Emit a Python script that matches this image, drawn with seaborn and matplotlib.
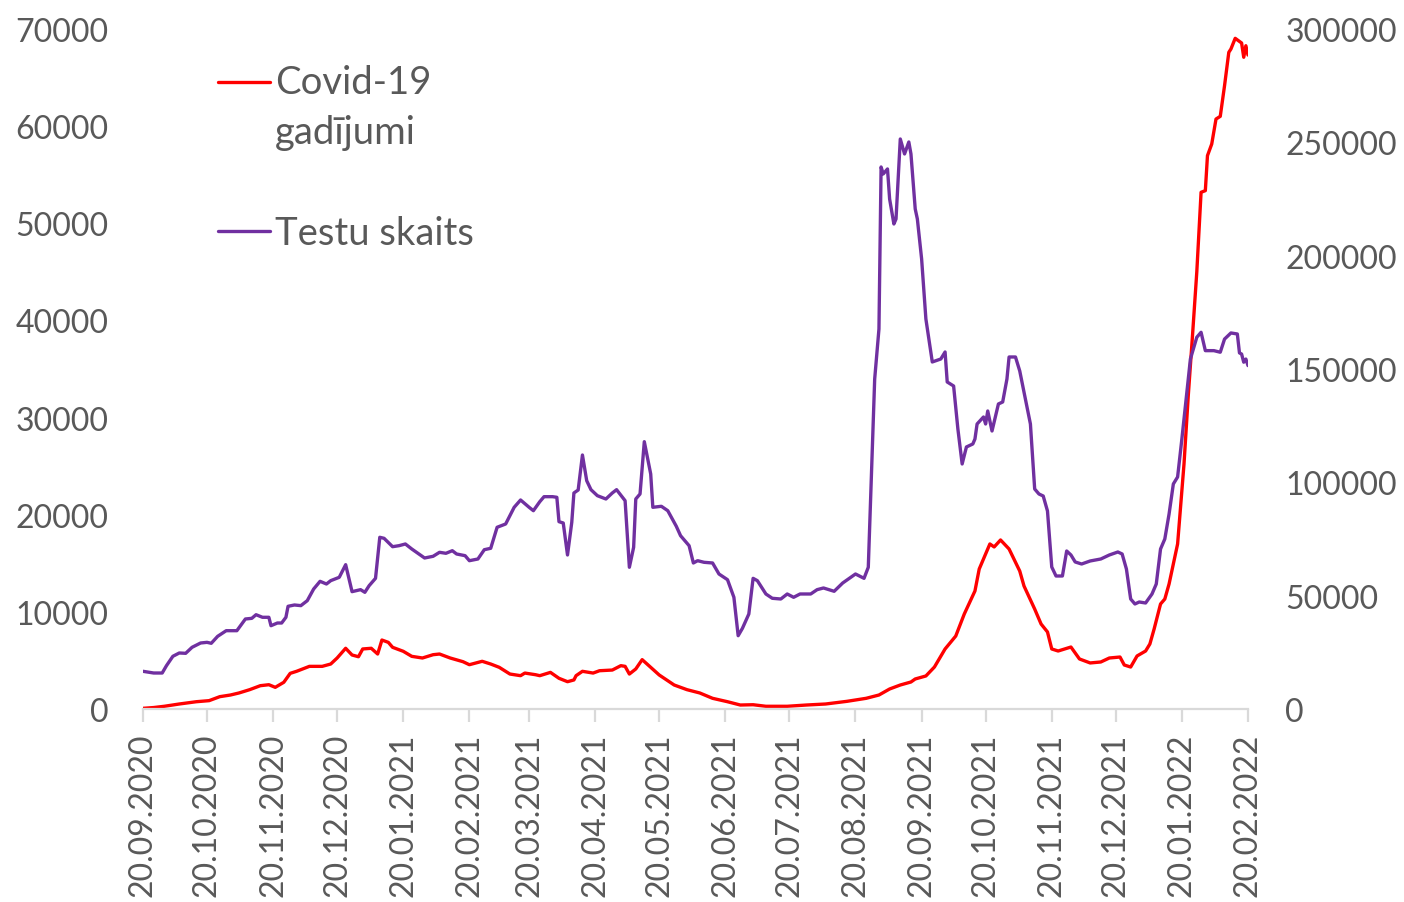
import matplotlib
matplotlib.use("Agg")
import matplotlib.pyplot as plt
import seaborn as sns
import pandas as pd
import numpy as np

# ---- data (days since 20.09.2020) ----
start_date = "2020-09-20"
end_date = "2022-02-20"

cases_days = [0, 5, 10, 17, 25, 31, 36, 41, 45, 50, 55, 59, 62, 66, 69, 72, 78, 84, 88, 91,
              95, 98, 101, 103, 107, 110, 112, 115, 117, 122, 126, 131, 136, 139, 144, 150,
              153, 159, 163, 167, 172, 177, 179, 184, 186, 191, 195, 199, 202, 203, 206, 211,
              214, 220, 224, 226, 228, 231, 234, 238, 242, 249, 255, 261, 267, 274, 280, 286,
              292, 302, 311, 320, 330, 339, 345, 350, 355, 360, 362, 367, 371, 376, 381, 385,
              390, 392, 397, 399, 402, 406, 411, 413, 418, 421, 424, 426, 429, 432, 435, 439,
              444, 449, 453, 458, 460, 463, 466, 470, 472, 474, 477, 479, 481, 485, 488, 490,
              492, 494, 496, 498, 499, 501, 503, 505, 507, 509, 510, 512, 515, 516, 517, 518]
cases = [70, 150, 280, 515, 750, 860, 1270, 1440, 1650, 1990, 2400, 2500, 2230, 2750, 3670,
         3880, 4390, 4390, 4630, 5250, 6250, 5560, 5380, 6180, 6250, 5660, 7100, 6860, 6350,
         5940, 5420, 5250, 5590, 5660, 5250, 4870, 4560, 4910, 4630, 4290, 3600, 3430, 3700,
         3530, 3430, 3770, 3160, 2810, 2990, 3430, 3880, 3700, 3940, 4010, 4460, 4390, 3600,
         4120, 5080, 4290, 3500, 2470, 1990, 1650, 1100, 750, 410, 440, 280, 280, 410, 515,
         790, 1100, 1440, 2060, 2470, 2780, 3090, 3400, 4320, 6180, 7510, 9780, 12150, 14410,
         16990, 16680, 17400, 16470, 14200, 12660, 10290, 8750, 7930, 6180, 5970, 6180, 6380,
         5150, 4740, 4840, 5250, 5350, 4530, 4320, 5460, 5970, 6690, 8240, 10810, 11320, 12870,
         16990, 25220, 32250, 38500, 45000, 53190, 53360, 56960, 58160, 60730, 61010, 64160,
         67600, 67940, 69040, 68560, 67090, 68280, 67320]

tests_days = [0, 5, 9, 11, 14, 17, 20, 23, 27, 30, 32, 35, 39, 44, 48, 51, 53, 56, 59, 60, 63,
              65, 67, 68, 71, 74, 77, 80, 83, 86, 88, 92, 95, 98, 102, 104, 106, 109, 111, 113,
              117, 120, 123, 126, 132, 136, 139, 142, 145, 147, 151, 153, 157, 160, 163, 166,
              170, 174, 177, 181, 183, 186, 188, 192, 194, 195, 197, 199, 201, 202, 204, 206,
              208, 210, 213, 217, 220, 222, 226, 228, 230, 231, 233, 235, 238, 239, 243, 246,
              250, 252, 256, 258, 260, 263, 267, 270, 274, 277, 279, 281, 284, 286, 288, 292,
              295, 299, 302, 305, 308, 313, 316, 319, 324, 328, 334, 338, 340, 343, 345, 346,
              347, 349, 350, 352, 353, 355, 357, 359, 360, 362, 363, 365, 367, 370, 374, 376,
              377, 380, 382, 384, 386, 389, 390, 391, 394, 395, 396, 398, 401, 403, 405, 406,
              409, 411, 413, 416, 418, 420, 422, 424, 426, 428, 431, 433, 435, 437, 440, 444,
              449, 453, 457, 459, 461, 463, 465, 467, 470, 473, 475, 477, 479, 481, 483, 485,
              487, 489, 491, 494, 496, 498, 502, 505, 507, 510, 513, 514, 515, 516, 517, 518]
tests = [16630, 15880, 15880, 19110, 23250, 24710, 24570, 27220, 29120, 29410, 28990, 32070,
         34550, 34550, 39710, 40000, 41600, 40460, 40460, 36750, 37940, 37940, 40460, 45310,
         45890, 45600, 47790, 52940, 56330, 55150, 56620, 58100, 63670, 51770, 52650, 51480,
         54400, 57650, 75750, 75310, 71610, 72050, 72800, 70590, 66620, 67370, 69130, 68690,
         69840, 68390, 67640, 65430, 66180, 70280, 70900, 80170, 81620, 88990, 92210, 88990,
         87490, 91460, 93670, 93670, 93400, 82640, 82060, 67950, 82370, 95300, 96620, 112060,
         100730, 96760, 94110, 92650, 95300, 96760, 91900, 62520, 71340, 92650, 94860, 117940,
         103680, 88990, 89430, 87490, 80610, 76460, 72050, 64420, 65430, 64720, 64420, 59560,
         57050, 49280, 32340, 35600, 41910, 57650, 56620, 50740, 48840, 48530, 50740, 49280,
         50740, 50740, 52650, 53390, 51930, 55590, 59560, 57650, 62520, 145600, 167660, 239130,
         236040, 238250, 225000, 213980, 216190, 251480, 244870, 250160, 244870, 220600, 216190,
         198540, 172070, 153100, 154420, 157510, 144270, 142500, 123540, 108100, 115600, 116920,
         119120, 125740, 128830, 125740, 131480, 122650, 134570, 135450, 145600, 155300, 155300,
         149130, 139860, 125740, 97060, 94860, 93970, 87360, 62650, 58680, 58680, 69710, 67950,
         64860, 63970, 65300, 66180, 67950, 69270, 68390, 61770, 48530, 46330, 47210, 46770,
         50740, 55150, 70590, 75000, 86030, 99270, 102360, 119120, 136770, 154400, 164000,
         166200, 158100, 158100, 157400, 163200, 165900, 165450, 157100, 156600, 153000, 154400,
         151500]

cases_label = "Covid-19\ngadījumi"
tests_label = "Testu skaits"
left_ticks = [0, 10000, 20000, 30000, 40000, 50000, 60000, 70000]
right_ticks = [0, 50000, 100000, 150000, 200000, 250000, 300000]

RED = "#FF0000"
PURPLE = "#7030A0"
GRAY_TXT = "#595959"
GRAY_AX = "#D9D9D9"

t0 = pd.Timestamp(start_date)
df_cases = pd.DataFrame({"date": t0 + pd.to_timedelta(cases_days, unit="D"), "value": cases})
df_tests = pd.DataFrame({"date": t0 + pd.to_timedelta(tests_days, unit="D"), "value": tests})

sns.set_theme(style="white")
plt.rcParams["font.family"] = ["Lato", "DejaVu Sans"]

fig = plt.figure(figsize=(14.04, 9.03), dpi=100)
ax = fig.add_axes([143 / 1404, 1 - 710 / 903, (1248 - 143) / 1404, (710 - 30) / 903])
ax2 = ax.twinx()

sns.lineplot(data=df_cases, x="date", y="value", ax=ax, color=RED, linewidth=2.4,
             label=cases_label, legend=False)
sns.lineplot(data=df_tests, x="date", y="value", ax=ax2, color=PURPLE, linewidth=2.4,
             label=tests_label, legend=False)

ax.set_xlim(pd.Timestamp(start_date), pd.Timestamp(end_date))
ax.set_ylim(0, 70000)
ax2.set_ylim(0, 300000)
ax.set_yticks(left_ticks)
ax2.set_yticks(right_ticks)
ax.set_yticklabels([str(v) for v in left_ticks])
ax2.set_yticklabels([str(v) for v in right_ticks])

xt = pd.date_range(start_date, end_date, freq=pd.DateOffset(months=1))
ax.set_xticks(xt)
ax.set_xticklabels([d.strftime("%d.%m.%Y") for d in xt], rotation=90)

for a in (ax, ax2):
    for s in a.spines.values():
        s.set_visible(False)
    a.set_xlabel("")
    a.set_ylabel("")
    a.grid(False)
ax.spines["bottom"].set_visible(True)
ax.spines["bottom"].set_color(GRAY_AX)
ax.spines["bottom"].set_linewidth(1.6)

ax.tick_params(axis="x", which="major", direction="out", length=9, width=1.6, color=GRAY_AX,
               labelsize=23, labelcolor=GRAY_TXT, pad=8, bottom=True)
ax.tick_params(axis="y", length=0, labelsize=23, labelcolor=GRAY_TXT, pad=25)
ax2.tick_params(axis="y", length=0, labelsize=23, labelcolor=GRAY_TXT, pad=27)

h1, l1 = ax.get_legend_handles_labels()
h2, l2 = ax2.get_legend_handles_labels()
leg = ax2.legend(h1 + h2, l1 + l2, loc="upper left", bbox_to_anchor=(0.068, 0.949),
                 frameon=False, fontsize=27.5, handlelength=1.36, handletextpad=0.12,
                 labelspacing=1.72, borderpad=0, borderaxespad=0)
for t in leg.get_texts():
    t.set_color(GRAY_TXT)
    t.set_linespacing(1.48)
# put the first legend handle level with the first text line
hd = leg.legend_handles[0]
hd.set_ydata(np.asarray(hd.get_ydata(), dtype=float) + 18.5)

fig.savefig("out.png", dpi=100)
